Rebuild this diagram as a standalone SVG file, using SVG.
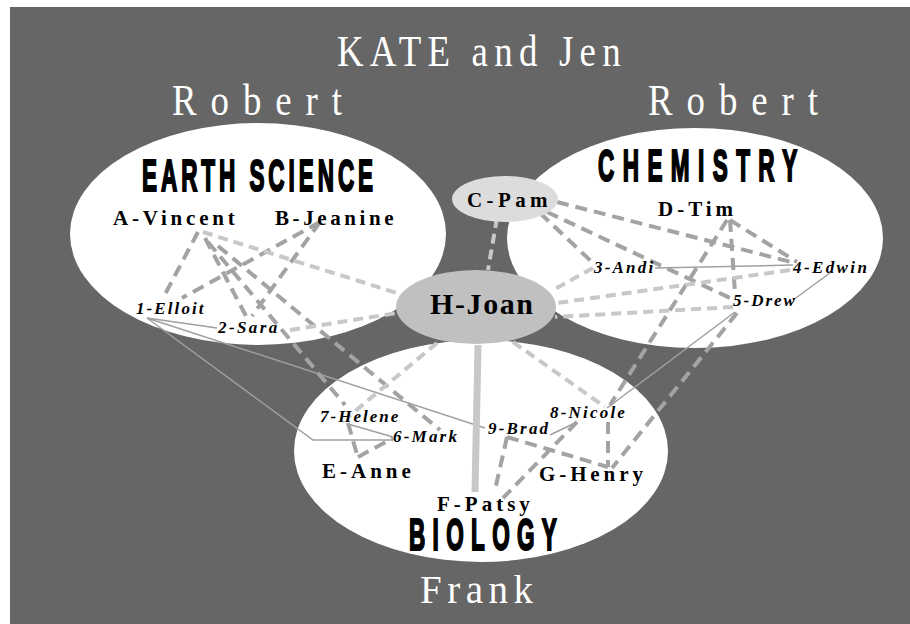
<svg xmlns="http://www.w3.org/2000/svg" width="910" height="624" viewBox="0 0 910 624">
<style>
.title{font-family:"Liberation Serif",serif;fill:#ffffff;font-size:45px}
.head{font-family:"Liberation Sans",sans-serif;font-weight:bold;font-size:45px;fill:#000;stroke:#000;stroke-width:2.2}
.n{font-family:"Liberation Serif",serif;font-weight:bold;font-size:21px;fill:#000}
.s{font-family:"Liberation Serif",serif;font-weight:bold;font-style:italic;font-size:17px;fill:#000}
.dk{stroke:#a3a3a3;stroke-width:4;stroke-dasharray:12 7;fill:none}
.lt{stroke:#c8c8c8;stroke-width:4;stroke-dasharray:10 6;fill:none}
.th{stroke:#a0a0a0;stroke-width:1.5;fill:none}
</style>
<rect x="0" y="0" width="910" height="624" fill="#ffffff"/>
<rect x="10" y="7" width="900" height="617" fill="#666666"/>
<g id="titles">
<text class="title" transform="translate(337,66) scale(0.82,1)" letter-spacing="7.6">KATE and Jen</text>
<text class="title" transform="translate(172,115) scale(0.82,1)" letter-spacing="17">Robert</text>
<text class="title" transform="translate(648,115) scale(0.82,1)" letter-spacing="17">Robert</text>
<text class="title" x="420" y="603" style="font-size:39px" letter-spacing="5.5">Frank</text>
</g>
<g id="earth-science">
<ellipse cx="258" cy="234" rx="188" ry="111" fill="#ffffff"/>
</g>
<g id="chemistry">
<ellipse cx="695" cy="238" rx="188" ry="110" fill="#ffffff"/>
</g>
<g id="biology">
<ellipse cx="481" cy="451" rx="187" ry="111" fill="#ffffff"/>
</g>
<g id="connectors">
<line class="dk" x1="198" y1="232" x2="163" y2="298"/>
<line class="dk" x1="320" y1="222" x2="182" y2="298"/>
<line class="dk" x1="320" y1="222" x2="252" y2="316"/>
<line class="dk" x1="205" y1="238" x2="246" y2="316"/>
<line class="dk" x1="208" y1="242" x2="345" y2="405"/>
<line class="dk" x1="218" y1="246" x2="440" y2="430"/>
<line class="dk" x1="348" y1="423" x2="358" y2="458"/>
<line class="dk" x1="358" y1="457" x2="393" y2="438"/>
<line class="th" x1="348" y1="424" x2="393" y2="437"/>
<polyline class="th" points="147,318 313,440 393,440"/>
<line class="th" x1="147" y1="318" x2="217" y2="328"/>
<line class="th" x1="147" y1="318" x2="485" y2="428"/>
<line class="lt" x1="203" y1="232" x2="397" y2="293"/>
<line class="lt" x1="290" y1="330" x2="397" y2="313"/>
<line class="lt" x1="437" y1="343" x2="348" y2="417"/>
<line class="lt" x1="497" y1="218" x2="488" y2="270"/>
<line class="dk" x1="557" y1="202" x2="795" y2="263"/>
<line class="dk" x1="540" y1="213" x2="593" y2="263"/>
<line class="dk" x1="547" y1="212" x2="730" y2="298"/>
<line class="dk" x1="730" y1="220" x2="797" y2="262"/>
<line class="dk" x1="730" y1="220" x2="735" y2="293"/>
<line class="dk" x1="727" y1="220" x2="610" y2="405"/>
<line class="dk" x1="737" y1="313" x2="612" y2="468"/>
<line class="th" x1="735" y1="312" x2="607" y2="408"/>
<line class="th" x1="830" y1="273" x2="793" y2="300"/>
<line class="th" x1="655" y1="268" x2="793" y2="265"/>
<line class="lt" x1="593" y1="268" x2="553" y2="290"/>
<line class="lt" x1="790" y1="270" x2="557" y2="303"/>
<line class="lt" x1="733" y1="307" x2="555" y2="317"/>
<line class="lt" x1="513" y1="342" x2="605" y2="407"/>
<line class="dk" x1="608" y1="422" x2="608" y2="467"/>
<line class="dk" x1="507" y1="437" x2="608" y2="467"/>
<line class="dk" x1="507" y1="437" x2="495" y2="490"/>
<line class="dk" x1="577" y1="422" x2="503" y2="498"/>
<line class="th" x1="550" y1="435" x2="577" y2="422"/>
<line x1="478" y1="345" x2="475" y2="492" stroke="#c8c8c8" stroke-width="7"/>
</g>
<g id="c-pam">
<ellipse cx="505" cy="199" rx="53" ry="23" fill="#dcdcdc"/>
<text class="n" x="467" y="207" letter-spacing="4.4">C-Pam</text>
</g>
<g id="h-joan">
<ellipse cx="476" cy="307" rx="80" ry="37" fill="#c0c0c0"/>
<text class="n" x="430" y="314" style="font-size:30px" letter-spacing="1.6">H-Joan</text>
</g>
<g id="labels-headings">
<text class="head" transform="translate(142,191) scale(0.5,1)" letter-spacing="7.9">EARTH SCIENCE</text>
<text class="head" transform="translate(598,181) scale(0.5,1)" letter-spacing="16.9">CHEMISTRY</text>
<text class="head" transform="translate(409,550) scale(0.5,1)" letter-spacing="14.7">BIOLOGY</text>
</g>
<g id="a-vincent"><text class="n" x="113" y="225" letter-spacing="3.8">A-Vincent</text></g>
<g id="b-jeanine"><text class="n" x="275" y="225" letter-spacing="3.6">B-Jeanine</text></g>
<g id="d-tim"><text class="n" x="658" y="216" letter-spacing="4">D-Tim</text></g>
<g id="e-anne"><text class="n" x="322" y="478" letter-spacing="4">E-Anne</text></g>
<g id="f-patsy"><text class="n" x="437" y="511" letter-spacing="4">F-Patsy</text></g>
<g id="g-henry"><text class="n" x="539" y="481" letter-spacing="3.9">G-Henry</text></g>
<g id="n1-elloit"><text class="s" x="136" y="314" letter-spacing="2.1">1-Elloit</text></g>
<g id="n2-sara"><text class="s" x="218" y="333" letter-spacing="2.4">2-Sara</text></g>
<g id="n3-andi"><text class="s" x="594" y="273" letter-spacing="2.2">3-Andi</text></g>
<g id="n4-edwin"><text class="s" x="793" y="273" letter-spacing="2.4">4-Edwin</text></g>
<g id="n5-drew"><text class="s" x="733" y="306" letter-spacing="2">5-Drew</text></g>
<g id="n6-mark"><text class="s" x="393" y="442" letter-spacing="2.2">6-Mark</text></g>
<g id="n7-helene"><text class="s" x="320" y="422" letter-spacing="2">7-Helene</text></g>
<g id="n8-nicole"><text class="s" x="550" y="418" letter-spacing="2.2">8-Nicole</text></g>
<g id="n9-brad"><text class="s" x="488" y="434" letter-spacing="2.2">9-Brad</text></g>
</svg>
